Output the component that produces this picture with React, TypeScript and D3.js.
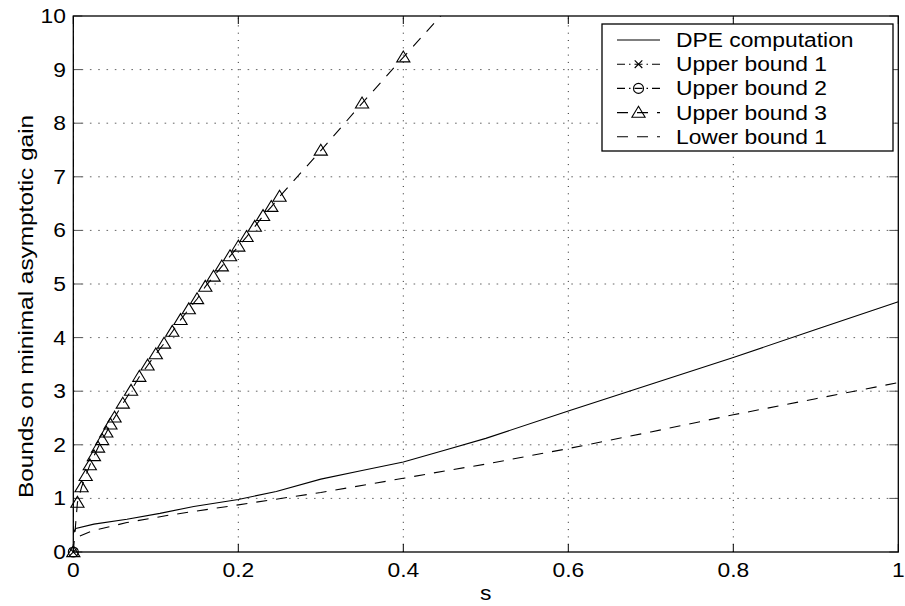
import React from 'react';
import * as d3 from 'd3';

const W = 905;
const H = 606;
const PL = 73.3, PR = 898.3, PT = 16, PB = 552;
const FS = 19.5;
const SX = 1.17;
const FONT = '"Liberation Sans", Arial, Helvetica, sans-serif';

const xTicks = [0, 0.2, 0.4, 0.6, 0.8, 1];
const xTickLabels = ['0', '0.2', '0.4', '0.6', '0.8', '1'];
const yTicks = [0, 1, 2, 3, 4, 5, 6, 7, 8, 9, 10];
const yTickLabels = ['0', '1', '2', '3', '4', '5', '6', '7', '8', '9', '10'];

const dpeS = [0, 0.003, 0.025, 0.065, 0.105, 0.146, 0.2, 0.246, 0.3, 0.35, 0.4, 0.45, 0.5, 0.6, 0.7, 0.8, 0.9, 1.0];
const dpeY = [0.35, 0.44, 0.52, 0.61, 0.72, 0.85, 0.98, 1.13, 1.36, 1.52, 1.68, 1.9, 2.12, 2.63, 3.13, 3.63, 4.15, 4.67];

const ub1S = [0, 0.0004];
const ub1Y = [0, 40];
const ub2S = [0, 0.0005];
const ub2Y = [0, 40];

const ub3S = [0, 0.005, 0.01, 0.015, 0.02, 0.025, 0.03, 0.035, 0.04, 0.045, 0.05, 0.06, 0.07, 0.08, 0.09, 0.1, 0.11, 0.12, 0.13, 0.14, 0.15, 0.16, 0.17, 0.18, 0.19, 0.2, 0.21, 0.22, 0.23, 0.24, 0.25, 0.3, 0.35, 0.4, 0.45];
const ub3Y = [0, 0.92, 1.21, 1.42, 1.62, 1.79, 1.95, 2.09, 2.23, 2.38, 2.51, 2.77, 3.01, 3.27, 3.48, 3.69, 3.89, 4.11, 4.33, 4.53, 4.72, 4.95, 5.14, 5.33, 5.52, 5.7, 5.88, 6.07, 6.27, 6.44, 6.63, 7.49, 8.37, 9.23, 10.08];

const lbS = [0.008, 0.024, 0.065, 0.117, 0.2, 0.3, 0.4, 0.457, 0.5, 0.6, 0.7, 0.8, 0.9, 1.0];
const lbY = [0.3, 0.4, 0.55, 0.69, 0.88, 1.11, 1.375, 1.53, 1.64, 1.93, 2.24, 2.56, 2.86, 3.16];

const legendLabels = ['DPE computation', 'Upper bound 1', 'Upper bound 2', 'Upper bound 3', 'Lower bound 1'];
const xLabel = 's';
const yLabel = 'Bounds on minimal asymptotic gain';

const DASH = '11,9';
const DASHDOT = '8,4,1.5,4';

const x = d3.scaleLinear().domain([0, 1]).range([PL, PR]);
const y = d3.scaleLinear().domain([0, 10]).range([PB, PT]);

const zip = (s: number[], v: number[]) => s.map((d, i) => [d, v[i]] as [number, number]);
const line = d3.line<[number, number]>().x(d => x(d[0])).y(d => y(d[1]));

function Tri({ cx, cy }: { cx: number; cy: number }) {
  const p = `M${cx},${cy - 6.3}L${cx - 6.6},${cy + 4.6}L${cx + 6.6},${cy + 4.6}Z`;
  return <path d={p} fill="none" stroke="#000" strokeWidth={1.1} />;
}
function Circ({ cx, cy }: { cx: number; cy: number }) {
  return <circle cx={cx} cy={cy} r={5} fill="none" stroke="#000" strokeWidth={1.1} />;
}
function XM({ cx, cy }: { cx: number; cy: number }) {
  const s = 3.8;
  return (
    <path d={`M${cx - s},${cy - s}L${cx + s},${cy + s}M${cx - s},${cy + s}L${cx + s},${cy - s}`} stroke="#000" strokeWidth={1.1} />
  );
}

function T({ x: tx, y: ty, anchor, children }: { x: number; y: number; anchor: string; children: React.ReactNode }) {
  return (
    <text transform={`translate(${tx},${ty}) scale(${SX},1)`} textAnchor={anchor} fontSize={FS} fontFamily={FONT} fill="#000">
      {children}
    </text>
  );
}

export default function App() {
  const dpe = zip(dpeS, dpeY);
  const ub1 = zip(ub1S, ub1Y);
  const ub2 = zip(ub2S, ub2Y);
  const ub3 = zip(ub3S, ub3Y);
  const lb = zip(lbS, lbY);

  const inside = (d: [number, number]) => d[1] <= 10 && d[1] >= 0;

  const LX = 602, LY = 24, LW = 291, LH = 127;
  const rowY = (i: number) => 40 + i * 24.2;

  return (
    <svg width={W} height={H} style={{ position: 'absolute', left: 0, top: 0, background: '#fff' }}>
      <defs>
        <clipPath id="plotclip">
          <rect x={PL} y={PT} width={PR - PL} height={PB - PT} />
        </clipPath>
      </defs>
      <rect x={0} y={0} width={W} height={H} fill="#fff" />

      {/* grid */}
      {xTicks.slice(1, -1).map((t, i) => (
        <line key={'gx' + i} x1={x(t)} x2={x(t)} y1={PB} y2={PT} stroke="#222" strokeWidth={1} strokeDasharray="1,6.3" />
      ))}
      {yTicks.slice(1, -1).map((t, i) => (
        <line key={'gy' + i} x1={PL} x2={PR} y1={y(t)} y2={y(t)} stroke="#666" strokeWidth={1} strokeDasharray="1.6,6.7" />
      ))}

      {/* ticks */}
      {xTicks.map((t, i) => (
        <g key={'tx' + i}>
          <line x1={x(t)} x2={x(t)} y1={PB} y2={PB - 8} stroke="#000" strokeWidth={1} />
          <line x1={x(t)} x2={x(t)} y1={PT} y2={PT + 8} stroke="#000" strokeWidth={1} />
        </g>
      ))}
      {yTicks.map((t, i) => (
        <g key={'ty' + i}>
          <line x1={PL} x2={PL + 9} y1={y(t)} y2={y(t)} stroke="#555" strokeWidth={1} />
          <line x1={PR} x2={PR - 9} y1={y(t)} y2={y(t)} stroke="#555" strokeWidth={1} />
        </g>
      ))}

      {/* series */}
      <g clipPath="url(#plotclip)" fill="none">
        <path d={line(dpe) || ''} stroke="#000" strokeWidth={1.1} />
        <path d={line(lb) || ''} stroke="#000" strokeWidth={1.1} strokeDasharray={DASH} />
        <path d={line(ub3) || ''} stroke="#000" strokeWidth={1.1} strokeDasharray={DASH} />
        <path d={line(ub1) || ''} stroke="#000" strokeWidth={1.1} strokeDasharray={DASHDOT} />
        <path d={line(ub2) || ''} stroke="#000" strokeWidth={1.1} strokeDasharray={DASHDOT} />
      </g>

      {/* box */}
      <rect x={PL} y={PT} width={PR - PL} height={PB - PT} fill="none" stroke="#000" strokeWidth={1.3} />

      {/* markers */}
      {ub3.filter(inside).map((d, i) => <Tri key={'t' + i} cx={x(d[0])} cy={y(d[1])} />)}
      {ub2.filter(inside).map((d, i) => <Circ key={'c' + i} cx={x(d[0])} cy={y(d[1])} />)}
      {ub1.filter(inside).map((d, i) => <XM key={'x' + i} cx={x(d[0])} cy={y(d[1])} />)}

      {/* tick labels */}
      {xTicks.map((t, i) => (
        <T key={'lx' + i} x={x(t)} y={577} anchor="middle">{xTickLabels[i]}</T>
      ))}
      {yTicks.map((t, i) => (
        <T key={'ly' + i} x={66} y={y(t) + 7} anchor="end">{yTickLabels[i]}</T>
      ))}

      {/* axis labels */}
      <T x={(PL + PR) / 2} y={600} anchor="middle">{xLabel}</T>
      <text transform={`translate(33.3,306.5) rotate(-90) scale(1.25,1)`} textAnchor="middle" fontSize={FS} fontFamily={FONT} fill="#000">
        {yLabel}
      </text>

      {/* legend */}
      <rect x={LX} y={LY} width={LW} height={LH} fill="#fff" stroke="#000" strokeWidth={1.3} />
      {legendLabels.map((lab, i) => {
        const cy = rowY(i);
        const x1 = 617, x2 = 660, cx = 638.5;
        const dash = i === 0 ? undefined : i === 1 || i === 2 ? DASHDOT : DASH;
        return (
          <g key={'lg' + i}>
            <line x1={x1} x2={x2} y1={cy} y2={cy} stroke="#000" strokeWidth={1.1} strokeDasharray={dash} />
            {i === 1 && <XM cx={cx} cy={cy} />}
            {i === 2 && <Circ cx={cx} cy={cy} />}
            {i === 3 && <Tri cx={cx} cy={cy} />}
            <T x={676} y={cy + 7} anchor="start">{lab}</T>
          </g>
        );
      })}
    </svg>
  );
}
